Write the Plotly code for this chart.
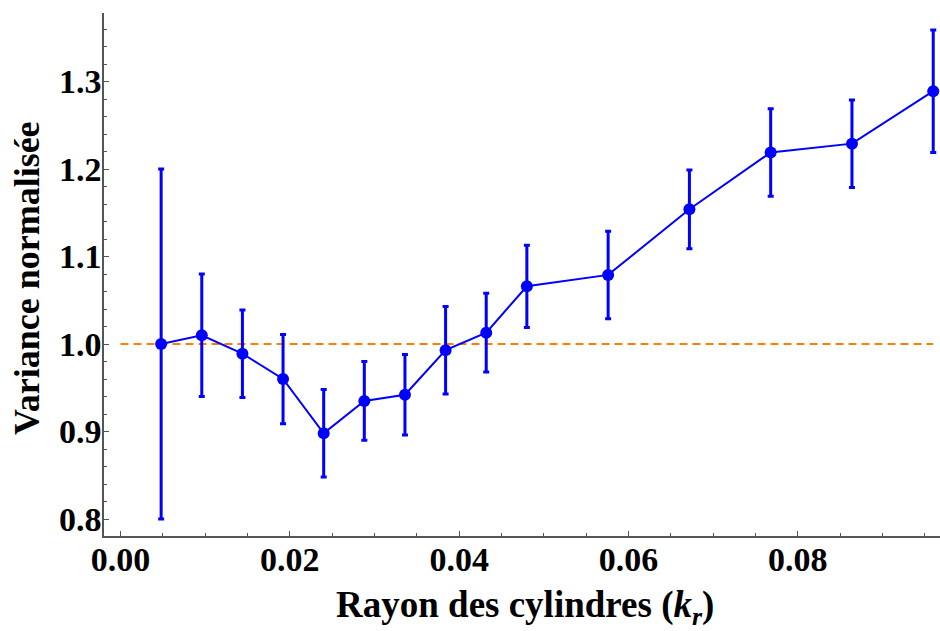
import plotly.graph_objects as go

# Data
k_r = [0.0048, 0.0096, 0.0144, 0.0192, 0.0240, 0.0288, 0.0336, 0.0384,
       0.0432, 0.0480, 0.0576, 0.0672, 0.0768, 0.0864, 0.0960]
variance = [1.000, 1.010, 0.989, 0.960, 0.898, 0.935, 0.942, 0.993,
            1.013, 1.066, 1.079, 1.154, 1.219, 1.229, 1.289]
error = [0.200, 0.070, 0.050, 0.051, 0.050, 0.045, 0.046, 0.050,
         0.045, 0.047, 0.050, 0.045, 0.050, 0.050, 0.070]
ref_x = [0.0, 0.096]
ref_y = [1.0, 1.0]

x_ticks = [0.00, 0.02, 0.04, 0.06, 0.08]
y_ticks = [0.8, 0.9, 1.0, 1.1, 1.2, 1.3]

x_title = "Rayon des cylindres (<i>k</i><sub><i>r</i></sub>)"
y_title = "Variance normalisée"

BLUE = "#0000FF"
ORANGE = "#FF8000"
AXIS = "#555555"
FONT = "Liberation Serif"

fig = go.Figure()
fig.add_trace(go.Scatter(
    x=ref_x, y=ref_y, mode="lines",
    line=dict(color=ORANGE, width=2, dash="8px,5px"),
    hoverinfo="skip", showlegend=False))
fig.add_trace(go.Scatter(
    x=k_r, y=variance, mode="lines+markers",
    line=dict(color=BLUE, width=2),
    marker=dict(color=BLUE, size=12),
    error_y=dict(type="data", array=error, visible=True,
                 color=BLUE, thickness=3, width=3),
    cliponaxis=False,
    showlegend=False))

fig.update_layout(
    width=940, height=631,
    margin=dict(l=104, r=0, t=13, b=95, autoexpand=False),
    paper_bgcolor="white", plot_bgcolor="white",
    font=dict(family=FONT, size=34, color="black", weight="bold"),
    showlegend=False,
    annotations=[
        dict(text=x_title, xref="paper", yref="paper", x=0.5036, y=-0.1372,
             xanchor="center", yanchor="middle", showarrow=False,
             font=dict(family=FONT, size=37, color="black", weight="bold")),
        dict(text=y_title, xref="paper", yref="paper", x=-0.0921, y=0.4933,
             xanchor="center", yanchor="middle", showarrow=False, textangle=-90,
             font=dict(family=FONT, size=36, color="black", weight="bold")),
    ],
)
fig.update_xaxes(
    range=[-0.00195, 0.0968], automargin=False,
    tickvals=x_ticks, tickformat=".2f", ticklabelstandoff=-8,
    showgrid=False, zeroline=False,
    showline=True, linecolor=AXIS, linewidth=1.5,
    ticks="inside", ticklen=5, tickwidth=1.2, tickcolor=AXIS,
    minor=dict(ticks="inside", dtick=0.005, ticklen=3, tickwidth=1, tickcolor=AXIS, showgrid=False),
    tickfont=dict(family=FONT, size=34, color="black", weight="bold"),
)
fig.update_yaxes(
    range=[0.7806, 1.3783], automargin=False,
    tickvals=y_ticks, tickformat=".1f", ticklabelstandoff=-6,
    showgrid=False, zeroline=False,
    showline=True, linecolor=AXIS, linewidth=1.5,
    ticks="inside", ticklen=5, tickwidth=1.2, tickcolor=AXIS,
    minor=dict(ticks="inside", dtick=0.02, ticklen=3, tickwidth=1, tickcolor=AXIS, showgrid=False),
    tickfont=dict(family=FONT, size=34, color="black", weight="bold"),
)

# remove the page's default 8px body margin so the figure fills the window exactly
fig.write_html("out.html",
               config={"displayModeBar": False},
               post_script="document.body.style.margin='0';document.body.style.overflow='hidden';")
